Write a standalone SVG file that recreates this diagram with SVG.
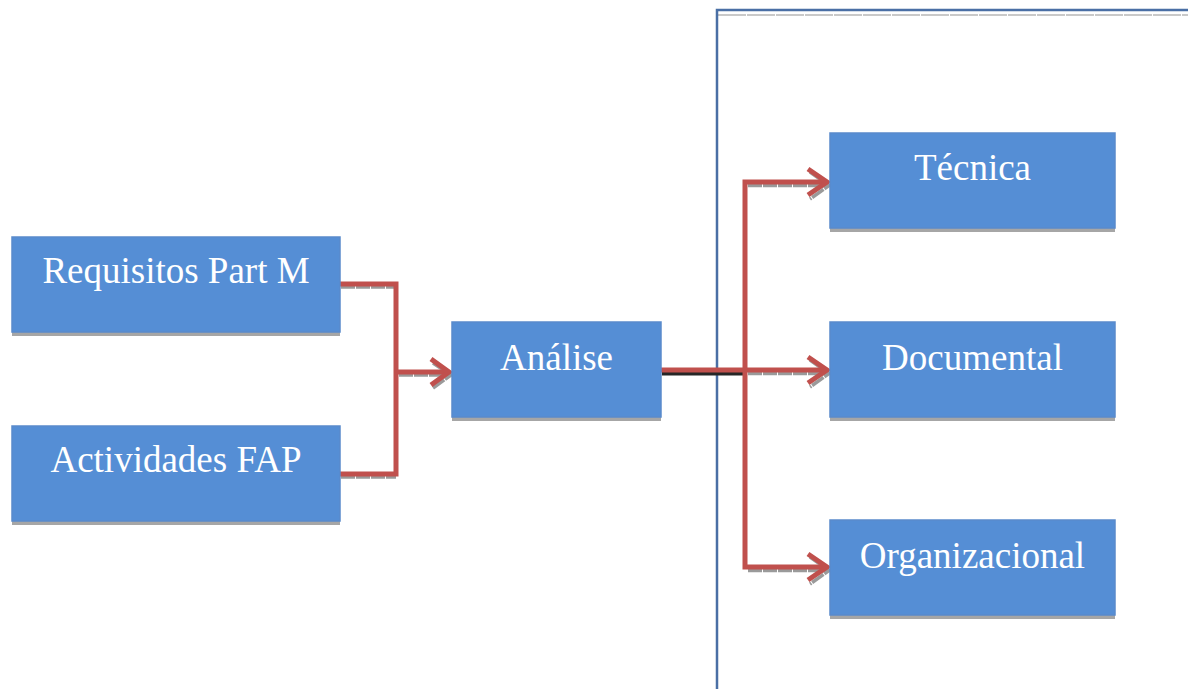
<svg xmlns="http://www.w3.org/2000/svg" width="1188" height="689" viewBox="0 0 1188 689">
  <defs>
    <style>
      .box { fill: #558ed5; stroke: #5a8acb; stroke-width: 1.5; }
      .shade { fill: #a6a6a6; }
      .lbl { font-family: "Liberation Serif", "Times New Roman", serif; font-size: 37px; fill: #ffffff; text-anchor: middle; }
      .wire { fill: none; stroke: #c0504d; stroke-width: 5; stroke-linejoin: miter; stroke-linecap: butt; }
      .wire-shadow { fill: none; stroke: #9a9a9a; stroke-width: 3.5; stroke-dasharray: 14 1; }
      .wire-dark { fill: none; stroke: #262626; stroke-width: 4; }
      .panel { fill: none; stroke: #4a6fa5; stroke-width: 2.5; }
    </style>
  </defs>

  <rect width="1188" height="689" fill="#ffffff"/>

  <!-- right-hand panel frame -->
  <g id="panel">
    <line x1="718" y1="15" x2="1188" y2="15" stroke="#b8b8b8" stroke-width="1.5" stroke-dasharray="28 1"/>
    <path class="panel" d="M717,689 V10 H1188"/>
  </g>

  <!-- connectors -->
  <g id="connectors">
    <!-- drop shadows under the horizontal runs -->
    <path class="wire-shadow" d="M341,287 H396 M341,477 H396"/>
    <path class="wire-shadow" d="M399,375 H448"/>
    <polyline class="wire-shadow" points="433,363 451,375 433,388"/>
    <path class="wire-dark" d="M662,373.5 H745"/>
    <path class="wire-shadow" d="M748,373.5 H826"/>
    <path class="wire-shadow" d="M748,185.5 H826 M748,570.5 H826"/>
    <polyline class="wire-shadow" points="810,172 829,185.5 810,199"/>
    <polyline class="wire-shadow" points="810,360 829,373.5 810,387"/>
    <polyline class="wire-shadow" points="810,557 829,570.5 810,584"/>

    <!-- inputs into Análise -->
    <path class="wire" d="M340,284 H396 V474 H340"/>
    <path class="wire" d="M396,372 H449"/>
    <polyline class="wire" points="431,359 449,372 431,385"/>

    <!-- Análise fan-out -->
    <path class="wire" d="M661,370 H826"/>
    <path class="wire" d="M826,182 H745 V567 H826"/>
    <polyline class="wire" points="808,169 827,182 808,195"/>
    <polyline class="wire" points="808,357 827,370 808,383"/>
    <polyline class="wire" points="808,554 827,567 808,580"/>
  </g>

  <g id="requisitos">
    <rect class="shade" x="12" y="332" width="328" height="4"/>
    <rect class="box" x="12" y="237" width="328" height="95"/>
    <text class="lbl" x="176" y="283">Requisitos Part M</text>
  </g>

  <g id="actividades">
    <rect class="shade" x="12" y="521" width="328" height="4"/>
    <rect class="box" x="12" y="426" width="328" height="95"/>
    <text class="lbl" x="176" y="472">Actividades FAP</text>
  </g>

  <g id="analise">
    <rect class="shade" x="452" y="417" width="209" height="4"/>
    <rect class="box" x="452" y="322" width="209" height="95"/>
    <text class="lbl" x="556.5" y="370">Análise</text>
  </g>

  <g id="tecnica">
    <rect class="shade" x="830" y="228" width="285" height="4"/>
    <rect class="box" x="830" y="133" width="285" height="95"/>
    <text class="lbl" x="972.5" y="180">Técnica</text>
  </g>

  <g id="documental">
    <rect class="shade" x="830" y="417" width="285" height="4"/>
    <rect class="box" x="830" y="322" width="285" height="95"/>
    <text class="lbl" x="972.5" y="370">Documental</text>
  </g>

  <g id="organizacional">
    <rect class="shade" x="830" y="615" width="285" height="4"/>
    <rect class="box" x="830" y="520" width="285" height="95"/>
    <text class="lbl" x="972.5" y="568">Organizacional</text>
  </g>
</svg>
